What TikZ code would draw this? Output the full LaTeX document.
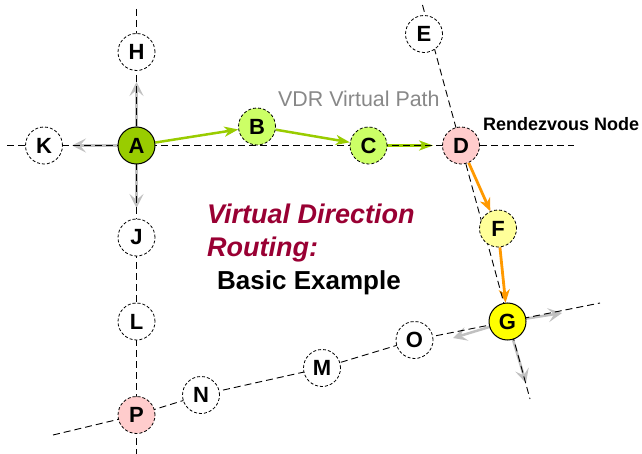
\documentclass[tikz,border=0pt]{standalone}
\usepackage{fontspec}
\setmainfont{Liberation Sans}
\usetikzlibrary{arrows.meta}
\definecolor{vgreen}{HTML}{99CC00}
\definecolor{lgreen}{HTML}{CCFF66}
\definecolor{pinkn}{HTML}{FFCCCC}
\definecolor{lyellow}{HTML}{FFFF99}
\definecolor{yelln}{HTML}{FFFF00}
\definecolor{orangea}{HTML}{FF9900}
\definecolor{maroonc}{HTML}{990033}
\definecolor{arrgray}{HTML}{C0C0C0}
\definecolor{pathgray}{HTML}{888888}
\pgfdeclarelayer{arrlayer}
\pgfdeclarelayer{linelayer}
\pgfsetlayers{arrlayer,linelayer,main}
\begin{document}
\begin{tikzpicture}[x=1pt,y=-1pt,
  nd/.style={circle,minimum size=37pt,inner sep=0pt,
    font=\fontsize{22}{22}\selectfont\bfseries},
  dnd/.style={nd,draw,line width=0.8pt,dash pattern=on 3pt off 2pt},
  snd/.style={nd,draw,line width=1pt},
  gridline/.style={draw,line width=0.9pt,dash pattern=on 7pt off 4pt},
  garr/.style={draw=arrgray,line width=2.5pt,
    -{Stealth[length=14pt,width=14pt,inset=6pt]}},
  grarr/.style={draw=vgreen,line width=2.5pt,
    -{Stealth[length=14pt,width=10pt,inset=4pt]}},
  orarr/.style={draw=orangea,line width=2.8pt,
    -{Stealth[length=13pt,width=11pt,inset=4pt]}},
  lbl/.style={anchor=base west,inner sep=0pt}
]
\useasboundingbox (0,0) rectangle (642,454);

% nodes
\node[snd,fill=vgreen] (A) at (136.5,145.5) {A};
\node[dnd,fill=lgreen] (B) at (257,126.5) {B};
\node[dnd,fill=lgreen] (C) at (368.5,145.5) {C};
\node[dnd,fill=pinkn] (D) at (461,145.5) {D};
\node[dnd,fill=white] (E) at (424,34) {E};
\node[dnd,fill=lyellow] (F) at (498,228.5) {F};
\node[snd,fill=yelln] (G) at (507.5,321.5) {G};
\node[dnd,fill=white] (H) at (136.5,52) {H};
\node[dnd,fill=white] (J) at (136.5,237.5) {J};
\node[dnd,fill=white] (K) at (44,145.5) {K};
\node[dnd,fill=white] (L) at (136.5,321.5) {L};
\node[dnd,fill=white] (M) at (322,368) {M};
\node[dnd,fill=white] (N) at (201,395) {N};
\node[dnd,fill=white] (O) at (414.5,340) {O};
\node[dnd,fill=pinkn] (P) at (136.5,415) {P};

% free ends
\coordinate (hl) at (7,145.5);
\coordinate (hr) at (574,145.5);
\coordinate (vt) at (136.5,9);
\coordinate (vb) at (136.5,454);
\coordinate (et) at (422.5,5);
\coordinate (eb) at (530,399);
\coordinate (pl) at (53,435);
\coordinate (pr) at (600,303);
\coordinate (tu) at (136.5,82);
\coordinate (tl) at (72,145.5);
\coordinate (td) at (136.5,208);
\coordinate (to) at (453,338);
\coordinate (tr) at (562,313);
\coordinate (tg) at (526,383);

% dashed grid lines
\begin{pgfonlayer}{linelayer}
\draw[gridline] (hl) -- (hr);
\draw[gridline] (vt) -- (vb);
\draw[gridline] (et) -- (eb);
\draw[gridline] (pl) -- (P.center) -- (N.center) -- (M.center) -- (O.center) -- (G.center) -- (pr);
\end{pgfonlayer}

% arrows
\begin{pgfonlayer}{arrlayer}
\draw[garr] (A.center) -- (tu);
\draw[garr] (A.center) -- (tl);
\draw[garr] (A.center) -- (td);
\draw[garr] (G.center) -- (to);
\draw[garr] (G.center) -- (tr);
\draw[garr] (G.center) -- (tg);
\draw[grarr] (A) -- (B);
\draw[grarr] (B) -- (C);
\draw[grarr,shorten >=9pt] (C) -- (D);
\draw[orarr] (D) -- (F);
\draw[orarr] (F) -- (G);
\end{pgfonlayer}

% texts
\node[lbl,text=pathgray,font=\fontsize{21.4}{24}\selectfont] (vdr) at (278,106.5) {VDR Virtual Path};
\node[lbl,font=\fontsize{18}{20}\selectfont\bfseries] (rn) at (483,131) {Rendezvous Node};
\node[lbl,text=maroonc,font=\fontsize{27}{30}\selectfont\bfseries\itshape] (t1) at (207,223.5) {Virtual Direction};
\node[lbl,text=maroonc,font=\fontsize{27}{30}\selectfont\bfseries\itshape] (t2) at (207,256) {Routing:};
\node[lbl,font=\fontsize{26}{30}\selectfont\bfseries] (t3) at (217,289) {Basic Example};
\end{tikzpicture}
\end{document}
